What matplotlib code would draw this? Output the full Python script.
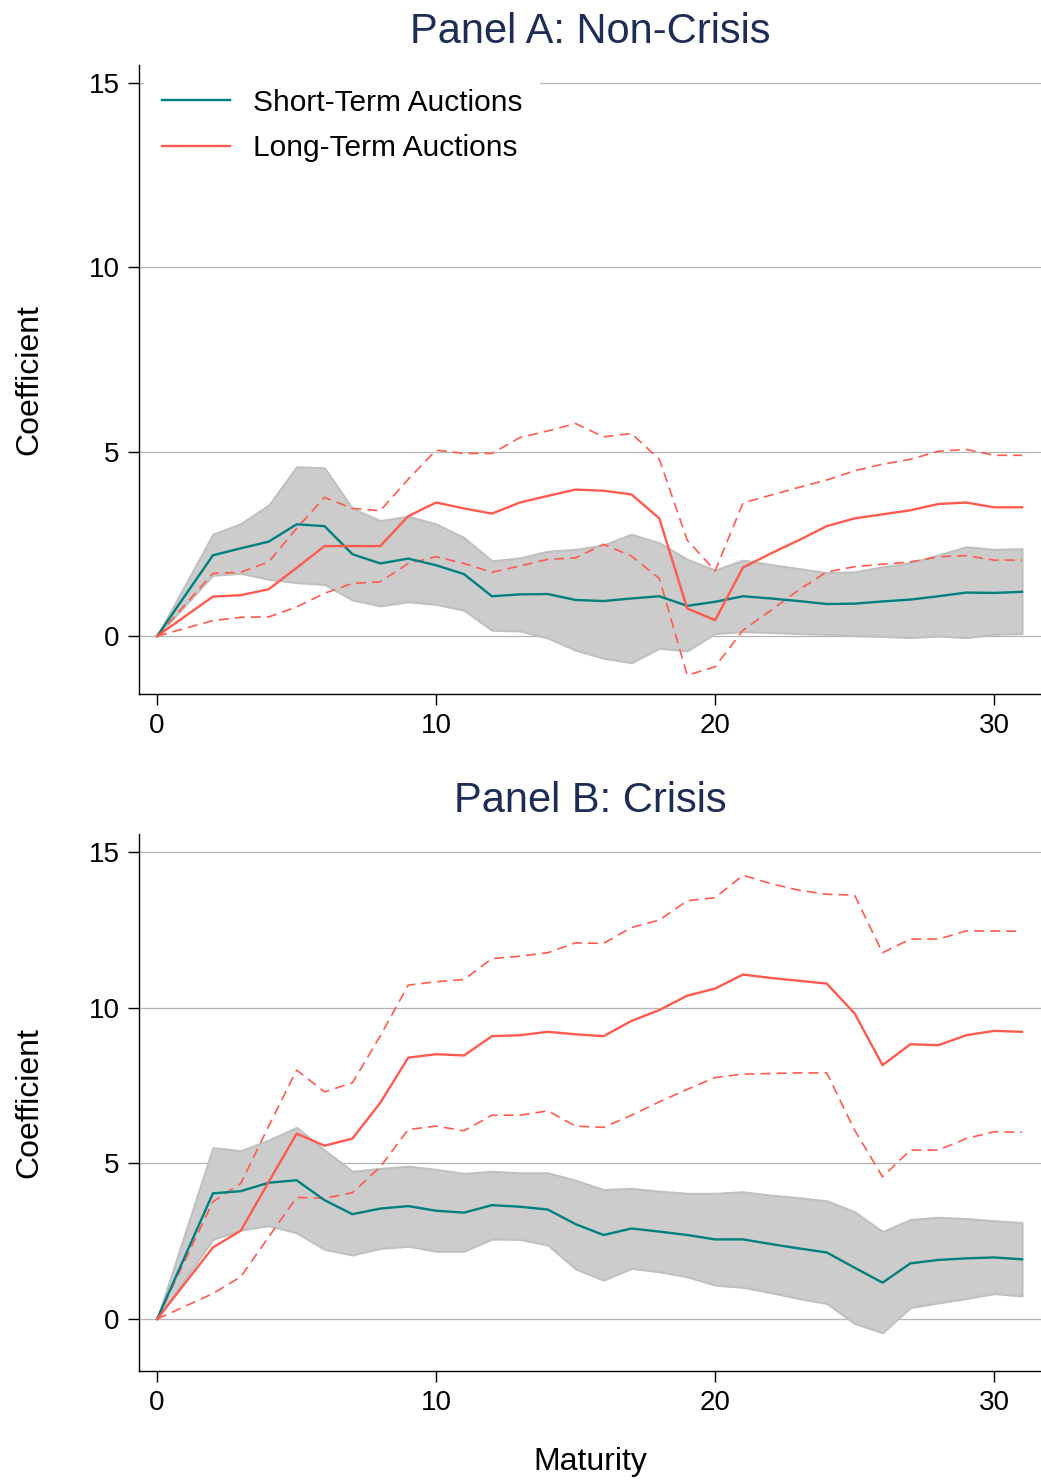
import matplotlib
matplotlib.use("Agg")
import matplotlib.pyplot as plt

plt.rcParams['font.family'] = ['Liberation Sans', 'DejaVu Sans']

maturity = [0, 2, 3, 4, 5, 6, 7, 8, 9, 10, 11, 12, 13, 14, 15, 16,
            17, 18, 19, 20, 21, 22, 23, 24, 25, 26, 27, 28, 29, 30, 31]

# Panel A: non-crisis
a_short = [0, 2.19, 2.38, 2.56, 3.03, 2.98, 2.22, 1.97, 2.10, 1.92, 1.68, 1.08, 1.13, 1.14, 0.98, 0.95,
           1.02, 1.08, 0.82, 0.93, 1.08, 1.02, 0.95, 0.87, 0.88, 0.94, 0.99, 1.08, 1.18, 1.17, 1.20]
a_short_hi = [0, 2.76, 3.05, 3.55, 4.59, 4.56, 3.46, 3.13, 3.25, 3.04, 2.67, 2.04, 2.12, 2.30, 2.35, 2.47,
              2.76, 2.53, 2.08, 1.79, 2.06, 1.94, 1.83, 1.72, 1.74, 1.88, 1.99, 2.20, 2.42, 2.35, 2.37]
a_short_lo = [0, 1.65, 1.70, 1.54, 1.45, 1.40, 0.98, 0.82, 0.93, 0.86, 0.70, 0.16, 0.14, -0.05, -0.38, -0.60,
              -0.72, -0.33, -0.40, 0.07, 0.12, 0.10, 0.07, 0.05, 0.01, -0.01, -0.04, 0.00, -0.04, 0.05, 0.07]
a_long = [0, 1.07, 1.11, 1.27, 1.85, 2.44, 2.44, 2.44, 3.25, 3.62, 3.46, 3.32, 3.62, 3.80, 3.97, 3.94,
          3.84, 3.19, 0.75, 0.43, 1.86, 2.24, 2.60, 2.98, 3.19, 3.30, 3.41, 3.58, 3.62, 3.49, 3.49]
a_long_hi = [0, 1.70, 1.73, 2.01, 2.92, 3.76, 3.46, 3.40, 4.25, 5.04, 4.95, 4.95, 5.38, 5.56, 5.76, 5.40,
             5.49, 4.79, 2.60, 1.77, 3.61, 3.82, 4.03, 4.23, 4.48, 4.66, 4.79, 5.01, 5.06, 4.90, 4.90]
a_long_lo = [0, 0.42, 0.51, 0.52, 0.79, 1.16, 1.43, 1.47, 1.97, 2.15, 1.97, 1.73, 1.90, 2.08, 2.12, 2.49,
             2.17, 1.56, -1.06, -0.83, 0.16, 0.70, 1.25, 1.74, 1.88, 1.95, 2.01, 2.15, 2.18, 2.06, 2.06]

# Panel B: crisis
b_short = [0, 4.04, 4.11, 4.38, 4.46, 3.82, 3.37, 3.55, 3.63, 3.48, 3.42, 3.66, 3.61, 3.52, 3.05, 2.70,
           2.91, 2.81, 2.70, 2.56, 2.56, 2.41, 2.27, 2.14, 1.65, 1.17, 1.79, 1.90, 1.95, 1.98, 1.92]
b_short_hi = [0, 5.51, 5.41, 5.75, 6.16, 5.43, 4.75, 4.84, 4.91, 4.81, 4.68, 4.75, 4.70, 4.70, 4.46, 4.16,
              4.20, 4.11, 4.04, 4.04, 4.09, 3.98, 3.90, 3.80, 3.45, 2.81, 3.20, 3.27, 3.23, 3.16, 3.10]
b_short_lo = [0, 2.56, 2.86, 3.00, 2.77, 2.24, 2.06, 2.27, 2.34, 2.18, 2.18, 2.57, 2.56, 2.38, 1.61, 1.25,
              1.63, 1.52, 1.36, 1.09, 1.02, 0.85, 0.66, 0.50, -0.14, -0.44, 0.37, 0.52, 0.66, 0.82, 0.74]
b_long = [0, 2.30, 2.84, 4.41, 5.96, 5.57, 5.80, 6.95, 8.40, 8.51, 8.47, 9.09, 9.12, 9.23, 9.15, 9.09,
          9.58, 9.93, 10.39, 10.62, 11.07, 10.96, 10.87, 10.78, 9.82, 8.16, 8.83, 8.80, 9.12, 9.26, 9.23]
b_long_hi = [0, 3.77, 4.36, 6.20, 8.00, 7.30, 7.59, 9.10, 10.73, 10.84, 10.91, 11.58, 11.66, 11.77, 12.09, 12.07,
             12.58, 12.82, 13.44, 13.54, 14.26, 13.99, 13.78, 13.65, 13.62, 11.77, 12.21, 12.21, 12.47, 12.47, 12.46]
b_long_lo = [0, 0.82, 1.36, 2.64, 3.91, 3.88, 4.06, 4.89, 6.09, 6.20, 6.05, 6.55, 6.55, 6.69, 6.20, 6.16,
             6.55, 6.98, 7.38, 7.76, 7.87, 7.89, 7.91, 7.91, 6.07, 4.57, 5.43, 5.43, 5.80, 6.02, 6.00]

yticks = [0, 5, 10, 15]
xticks = [0, 10, 20, 30]

TEAL = '#007f7f'
RED = '#ff5a50'
NAVY = '#1e2d55'

fig = plt.figure(figsize=(10.41, 14.83), dpi=100)


def draw_panel(ax, short, short_hi, short_lo, long_, long_hi, long_lo, ylim, title):
    ax.fill_between(maturity, short_lo, short_hi, facecolor='#cccccc', edgecolor='#c0c0c0',
                    linewidth=1.5, zorder=2)
    ax.plot(maturity, short, color=TEAL, lw=1.7, zorder=4, label='Short-Term Auctions')
    ax.plot(maturity, long_, color=RED, lw=1.7, zorder=4, label='Long-Term Auctions')
    ax.plot(maturity, long_hi, color=RED, lw=1.2, ls=(0, (6, 3.6)), zorder=3)
    ax.plot(maturity, long_lo, color=RED, lw=1.2, ls=(0, (6, 3.6)), zorder=3)
    ax.set_xlim(-0.65, 31.68)
    ax.set_ylim(*ylim)
    ax.set_xticks(xticks)
    ax.set_yticks(yticks)
    ax.grid(axis='y', color='#b4b4b4', lw=0.9, zorder=1)
    ax.set_axisbelow(True)
    for s in ['top', 'right']:
        ax.spines[s].set_visible(False)
    for s in ['left', 'bottom']:
        ax.spines[s].set_linewidth(1.0)
    ax.tick_params(direction='out', length=8, width=1.0, labelsize=20, pad=6)
    ax.set_ylabel('Coefficient', fontsize=23, labelpad=32)
    ax.set_title(title, fontsize=30, color=NAVY, pad=16)


ax1 = fig.add_axes([0.1335, 0.532, 0.8665, 0.424])
draw_panel(ax1, a_short, a_short_hi, a_short_lo, a_long, a_long_hi, a_long_lo,
           (-1.57, 15.47), 'Panel A: Non-Crisis')
leg = ax1.legend(loc='upper left', bbox_to_anchor=(0.006, 0.99), fontsize=21.5, frameon=True,
                 facecolor='white', edgecolor='none', framealpha=1, fancybox=False,
                 handlelength=2.28, handletextpad=0.78, labelspacing=0.58, borderpad=0.58,
                 borderaxespad=0)
leg.set_zorder(5)

ax2 = fig.add_axes([0.1335, 0.0755, 0.8665, 0.362])
draw_panel(ax2, b_short, b_short_hi, b_short_lo, b_long, b_long_hi, b_long_lo,
           (-1.67, 15.58), 'Panel B: Crisis')
ax2.set_xlabel('Maturity', fontsize=23, labelpad=22)

fig.savefig('out.png', dpi=100)
